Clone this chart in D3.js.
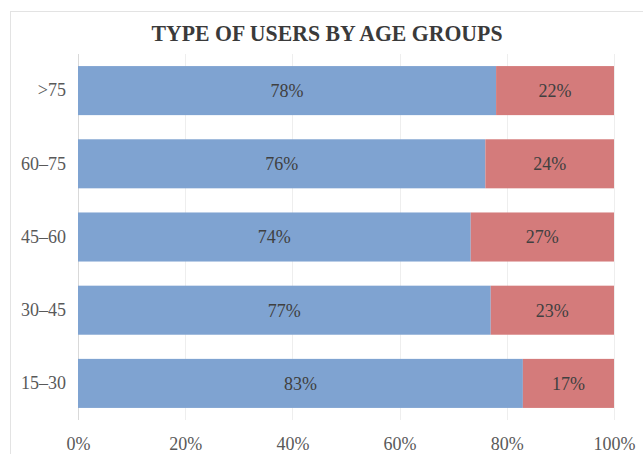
<!DOCTYPE html>
<html lang="en">
<head>
    <meta charset="utf-8">
    <title>Type of users by age groups</title>
    <style>
        body {
            margin: 0;
            background: #fff;
        }
        svg text {
            font-family: "Liberation Serif", "DejaVu Serif", serif;
        }
    </style>
</head>
<body>
<svg class="chart"></svg>
<script src="https://d3js.org/d3.v7.min.js"></script>
<script>

  const width = 643;
  const height = 454;

  // categories, top to bottom
  const ageGroups = [">75", "60\u201375", "45\u201360", "30\u201345", "15\u201330"];
  const seriesNames = ["blue", "red"];
  const blueValues = [78, 76, 74, 77, 83];
  const redValues = [22, 24, 27, 23, 17];
  const xTicks = [0, 0.2, 0.4, 0.6, 0.8, 1];

  const colors = {blue: "#7fa3d1", red: "#d47b7b"};

  const rows = ageGroups.map((g, i) => ({group: g, blue: blueValues[i], red: redValues[i]}));

  const stacked = d3.stack()
    .keys(seriesNames)
    .offset(d3.stackOffsetExpand)(rows);

  const plot = {left: 78, right: 614, top: 54, bottom: 420};

  const x = d3.scaleLinear()
    .domain([0, 1])
    .range([plot.left, plot.right]);

  const y = d3.scaleBand()
    .domain(ageGroups)
    .range([plot.top, plot.bottom])
    .paddingInner(0.33)
    .paddingOuter(0.165);

  const svg = d3.select(".chart")
    .attr("width", width)
    .attr("height", height);

  // outer chart border
  svg.append("rect")
    .attr("x", 10.5)
    .attr("y", 11.5)
    .attr("width", width)
    .attr("height", height)
    .attr("fill", "none")
    .attr("stroke", "#e3e3e3");

  svg.append("text")
    .attr("x", 327)
    .attr("y", 41)
    .attr("text-anchor", "middle")
    .attr("font-size", 23)
    .attr("font-weight", "bold")
    .attr("fill", "#3a3a3a")
    .attr("textLength", 351)
    .attr("lengthAdjust", "spacingAndGlyphs")
    .text("TYPE OF USERS BY AGE GROUPS");

  // vertical gridlines
  svg.append("g")
    .selectAll("line")
    .data(xTicks)
    .join("line")
    .attr("x1", d => Math.round(x(d)) + 0.5)
    .attr("x2", d => Math.round(x(d)) + 0.5)
    .attr("y1", plot.top)
    .attr("y2", plot.bottom)
    .attr("stroke", d => d === 0 ? "#d9d9d9" : "#eeeeee");

  // bars
  svg.append("g")
    .selectAll("g")
    .data(stacked)
    .join("g")
    .attr("fill", s => colors[s.key])
    .selectAll("rect")
    .data(s => s)
    .join("rect")
    .attr("x", d => x(d[0]))
    .attr("y", d => y(d.data.group))
    .attr("width", d => x(d[1]) - x(d[0]))
    .attr("height", y.bandwidth());

  // data labels
  svg.append("g")
    .selectAll("g")
    .data(stacked)
    .join("g")
    .selectAll("text")
    .data(s => s.map(d => ({d, key: s.key})))
    .join("text")
    .attr("x", o => x((o.d[0] + o.d[1]) / 2))
    .attr("y", o => y(o.d.data.group) + y.bandwidth() / 2)
    .attr("dy", "0.35em")
    .attr("text-anchor", "middle")
    .attr("font-size", 18)
    .attr("fill", "#404040")
    .text(o => o.d.data[o.key] + "%");

  // category axis
  const yAxis = d3.axisLeft(y).tickSize(0).tickPadding(12);
  const yg = svg.append("g")
    .attr("transform", `translate(${plot.left},0)`)
    .call(yAxis);
  yg.select(".domain").remove();
  yg.selectAll("text")
    .attr("font-size", 18)
    .attr("fill", "#595959")
    .attr("font-family", null);

  // percent axis
  const xAxis = d3.axisBottom(x)
    .tickValues(xTicks)
    .tickFormat(d3.format(".0%"))
    .tickSize(0)
    .tickPadding(17);
  const xg = svg.append("g")
    .attr("transform", `translate(0,${plot.bottom})`)
    .call(xAxis);
  xg.select(".domain").remove();
  xg.selectAll("text")
    .attr("font-size", 18)
    .attr("fill", "#595959")
    .attr("font-family", null);

</script>
</body>
</html>
